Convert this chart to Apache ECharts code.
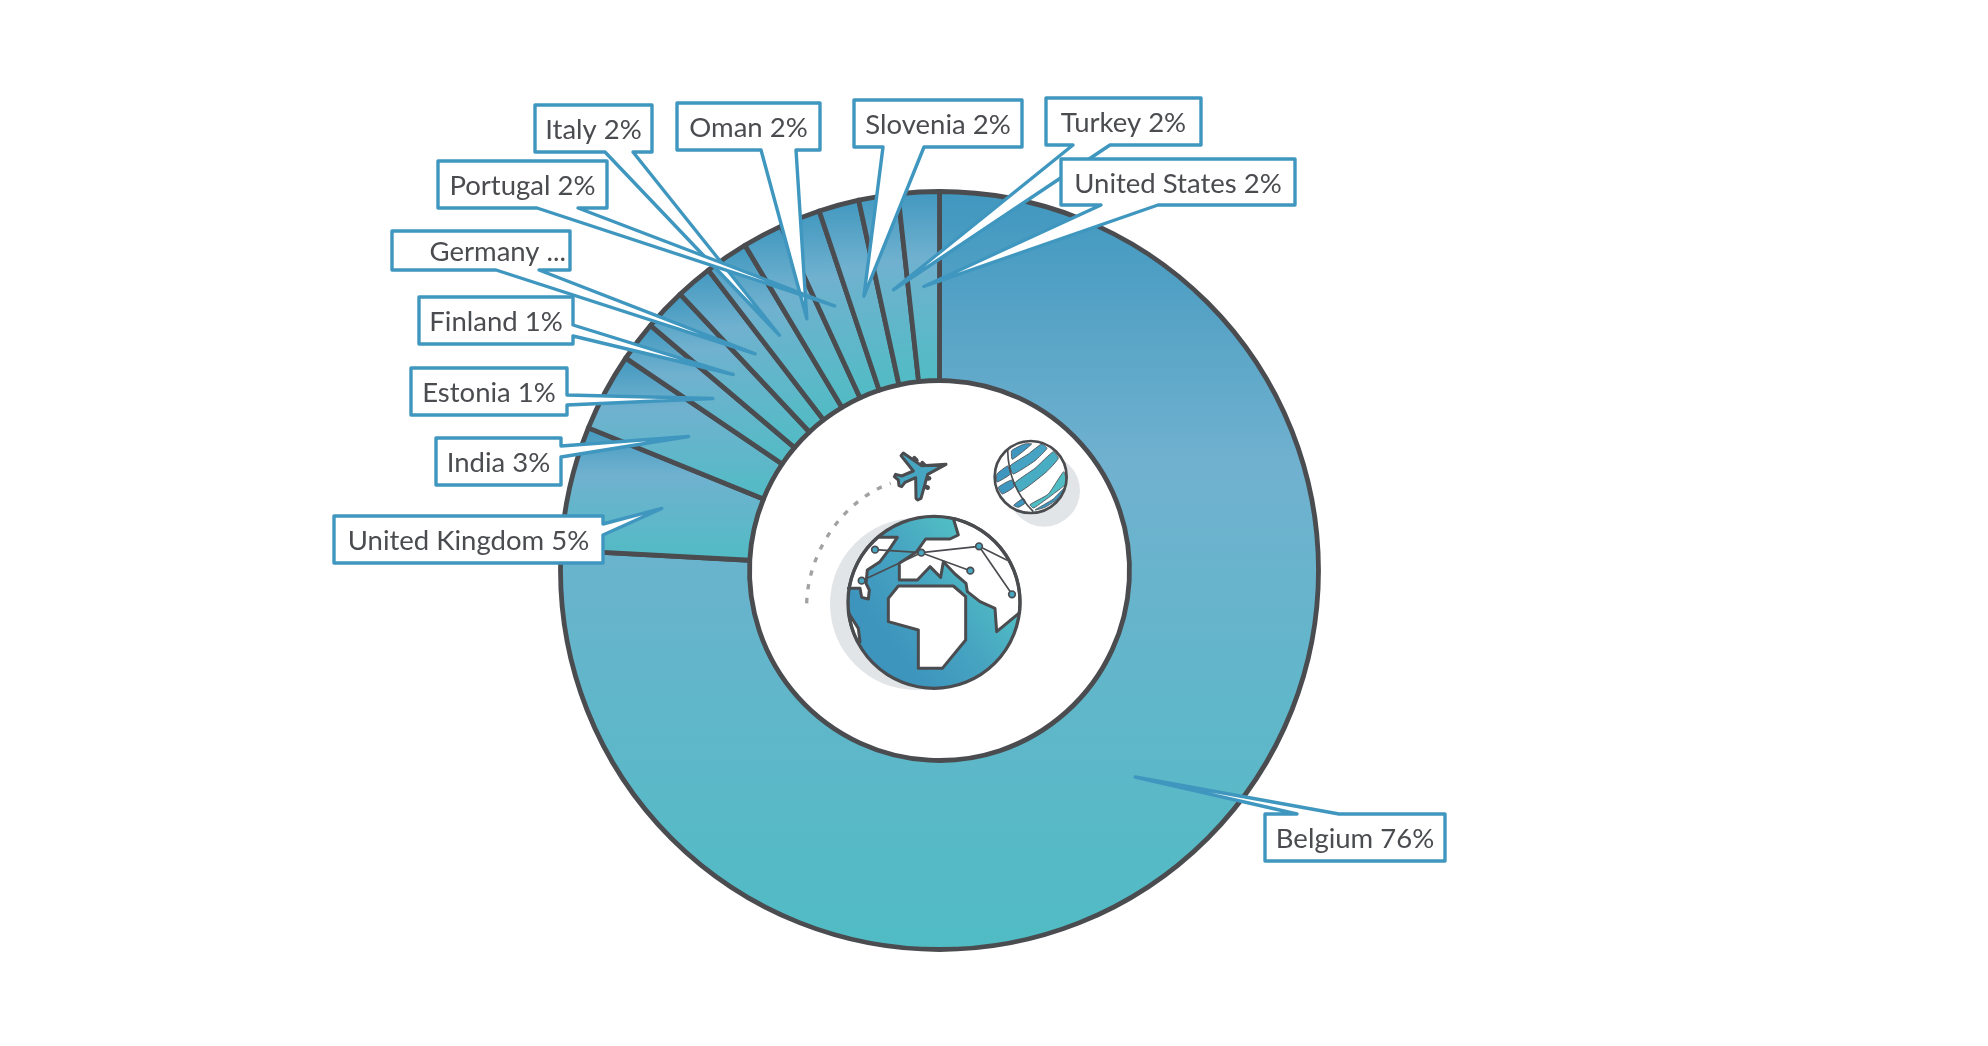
<!DOCTYPE html>
<html>
<head>
<meta charset="utf-8">
<title>Countries</title>
<style>
html,body{margin:0;padding:0;background:#fff;}
#chart{width:1988px;height:1046px;}
</style>
<script src="https://cdn.jsdelivr.net/npm/echarts@6/dist/echarts.min.js"></script>
</head>
<body>
<div id="chart"></div>
<script>
// slices, clockwise from 12 o'clock (share of the ring)
var countries = ['Belgium','United Kingdom','India','Estonia','Finland','Germany','Italy','Oman','Portugal','Slovenia','Turkey','United States'];
var shares = [75.86,5.28,3.33,1.72,1.81,1.56,1.86,1.72,1.72,1.72,1.67,1.75];
var labels = ['Belgium 76%','United Kingdom 5%','India 3%','Estonia 1%','Finland 1%','Germany ...','Italy 2%','Oman 2%','Portugal 2%','Slovenia 2%','Turkey 2%','United States 2%'];

// callout boxes: x0,y0,x1,y1, which side the tail leaves from, tail base from/to
var boxes = [
	[1265,814,1445,861,'top',1297,1339],
	[334,516,603,563,'right',524,535],
	[436,438,561,485,'right',446,457],
	[411,368,567,415,'right',395,405],
	[419,297,573,344,'right',325,336],
	[392,231,570,270,'bottom',496,539],
	[535,105,652,152,'bottom',605,633],
	[677,103,820,150,'bottom',761,796],
	[438,161,607,208,'bottom',537,578],
	[854,100,1022,147,'bottom',883,924],
	[1046,98,1201,145,'bottom',1073,1110],
	[1061,159,1295,205,'bottom',1101,1158]
];

var cx = 939.5, cy = 570.5, rIn = 190, rOut = 379;
var BLUE = '#3f97bf', TEAL = '#50bcc4', DARK = '#4a4c50', SHADE = '#e2e5e7';

var sliceFill = new echarts.graphic.LinearGradient(0,0,0,1,[
	{offset:0,color:'#4097bf'},
	{offset:0.36,color:'#70b1cf'},
	{offset:1,color:TEAL}
]);

// angle of the middle of each slice, radians clockwise from the top
var midAngles = (function(){
	var total = shares.reduce(function(a,b){return a+b;},0), run = 0;
	return shares.map(function(v){
		var m = (run + v/2)/total*Math.PI*2;
		run += v;
		return m;
	});
})();

var calloutPoints = function(i){
	var b = boxes[i], a = midAngles[i], r = (rIn+rOut)/2;
	var tip = [cx+Math.sin(a)*r, cy-Math.cos(a)*r];
	if(b[4]==='top') return [[b[0],b[1]],[b[5],b[1]],tip,[b[6],b[1]],[b[2],b[1]],[b[2],b[3]],[b[0],b[3]]];
	if(b[4]==='right') return [[b[0],b[1]],[b[2],b[1]],[b[2],b[5]],tip,[b[2],b[6]],[b[2],b[3]],[b[0],b[3]]];
	return [[b[0],b[1]],[b[2],b[1]],[b[2],b[3]],[b[6],b[3]],tip,[b[5],b[3]],[b[0],b[3]]];
};

var renderCallout = function(params){
	var i = params.dataIndex, b = boxes[i];
	var cut = labels[i].indexOf('...')>-1;
	return {
		type:'group',
		children:[{
			type:'polygon',
			shape:{points:calloutPoints(i)},
			style:{fill:'#fff',stroke:BLUE,lineWidth:3.4,lineJoin:'round'}
		},{
			type:'text',
			style:{
				text:labels[i],
				x:cut ? b[2]-4 : (b[0]+b[2])/2,
				y:(b[1]+b[3])/2+2,
				align:cut ? 'right' : 'center',
				verticalAlign:'middle',
				fill:DARK,
				font:'27.5px Lato'
			}
		}]
	};
};

// --- centre illustration, drawn in a 3x local space anchored at (780,420)
var arcPts = function(c,r,from,to){
	var pts = [], n = 40;
	for(var k=0;k<=n;k++){
		var t = (from+(to-from)*k/n)*Math.PI/180;
		pts.push([c[0]+Math.cos(t)*r,c[1]+Math.sin(t)*r]);
	}
	return pts;
};
var shift = function(pts,dx,dy){
	return pts.map(function(p){return [p[0]+dx,p[1]+dy];});
};
var G = [462,547], GR = 258;
var S = [752,171], SR = 108;
var poly = function(points,fill){
	return {type:'polygon',shape:{points:points},style:{fill:fill,stroke:DARK,lineWidth:9,lineJoin:'round'}};
};
var seg = function(x1,y1,x2,y2,color,w){
	return {type:'line',shape:{x1:x1,y1:y1,x2:x2,y2:y2},style:{stroke:color,lineWidth:w,lineCap:'round'}};
};
var node = function(x,y){
	return {type:'circle',shape:{cx:x,cy:y,r:10},style:{fill:'#48a6c0',stroke:DARK,lineWidth:5}};
};
// stripes of the small globe, outlined in the crop's own coordinates
var band = function(points,c){
	return {type:'polygon',shape:{points:shift(points,615,30),smooth:0.15},style:{fill:c||BLUE,stroke:DARK,lineWidth:2.5}};
};

var globeFill = new echarts.graphic.LinearGradient(0.78,0.3,0.22,0.72,[
	{offset:0,color:TEAL},
	{offset:0.45,color:'#47a5c1'},
	{offset:1,color:'#3d94bd'}
]);

var planeBody = shift([[183,58],[128,88],[108,160],[98,165],[93,160],[92,98],[60,112],[50,125],[42,122],[40,105],[28,95],[32,88],[50,93],[85,78],[48,32],[55,24],[110,62]],315,75);

var illustration = {
	type:'group',
	x:780,y:420,scaleX:1/3,scaleY:1/3,
	silent:true,
	children:[
		{type:'circle',shape:{cx:408,cy:552,r:258},style:{fill:SHADE}},
		{type:'circle',shape:{cx:792,cy:212,r:108},style:{fill:SHADE}},
		{type:'bezierCurve',shape:{x1:80,y1:550,x2:332,y2:190,cpx1:85,cpy1:385,cpx2:200,cpy2:235},
			style:{stroke:'#a0a2a4',lineWidth:10,lineDash:[16,26],fill:null}},
		// big globe
		{type:'circle',shape:{cx:G[0],cy:G[1],r:GR},style:{fill:globeFill}},
		poly([[535,345],[510,357],[437,357],[410,395],[358,430],[358,480],[412,480],[450,440],[482,472],[490,425],[525,462],[558,490],[562,515],[600,545],[645,565],[650,635],[719,578]]
			.concat(arcPts(G,GR,7,-77)),'#fff'),
		poly([[355,498],[520,498],[557,530],[557,660],[487,745],[415,745],[415,630],[325,605],[325,535]],'#fff'),
		poly([[352,352],[330,385],[300,425],[262,450],[258,490],[268,510],[265,537],[245,532],[240,505],[205,505]]
			.concat(arcPts(G,GR,-170,-130)).concat([[300,352]]),'#fff'),
		poly([[205,578],[235,625],[240,665]].concat(arcPts(G,GR,153,173)),'#fff'),
		seg(285,389,424,398,DARK,5),seg(424,398,597,379,DARK,5),seg(424,398,571,452,DARK,5),
		seg(597,379,696,523,DARK,5),seg(597,379,680,420,DARK,5),seg(245,482,424,398,DARK,5),
		node(285,389),node(424,398),node(597,379),node(571,452),node(696,523),node(245,482),
		{type:'circle',shape:{cx:G[0],cy:G[1],r:GR},style:{fill:null,stroke:DARK,lineWidth:10}},
		// small striped globe
		{type:'circle',shape:{cx:S[0],cy:S[1],r:SR},style:{fill:'#fff'}},
		band([[80,62],[118,42],[140,42],[82,88]]),
		band([[75,108],[130,72],[170,42],[186,55],[150,92],[85,132]],'#46a3c3'),
		band([[88,160],[150,115],[205,65],[220,85],[185,125],[105,185]],'#48adc3'),
		band([[135,224],[190,192],[236,125],[244,160],[205,192],[146,234]],TEAL),
		band([[150,240],[205,207],[240,172],[225,202],[180,232]],BLUE),
		band([[36,132],[68,108],[76,132],[36,156]]),
		band([[40,172],[80,150],[88,170],[52,192]]),
		band([[86,226],[115,205],[122,218],[100,232]]),
		{type:'bezierCurve',shape:{x1:683,y1:90,x2:760,y2:275,cpx1:684,cpy1:150,cpx2:700,cpy2:215},
			style:{stroke:DARK,lineWidth:5,fill:null}},
		{type:'circle',shape:{cx:S[0],cy:S[1],r:SR},style:{fill:null,stroke:DARK,lineWidth:8}},
		// plane
		seg(403,115,409,121,DARK,14),seg(427,130,433,136,DARK,14),seg(443,175,447,175,DARK,14),seg(443,203,439,201,DARK,14),
		{type:'polygon',shape:{points:planeBody},style:{fill:'#46a6c2',stroke:DARK,lineWidth:9,lineJoin:'round'}}
	]
};

var init = function(){
	var chart = echarts.init(document.getElementById('chart'));
	chart.setOption({
		animation:false,
		backgroundColor:'#fff',
		graphic:[illustration],
		series:[{
			type:'pie',
			z:2,
			center:[cx,cy],
			radius:[rIn,rOut],
			startAngle:90,
			clockwise:true,
			silent:true,
			label:{show:false},
			labelLine:{show:false},
			itemStyle:{color:sliceFill,borderColor:DARK,borderWidth:4.8},
			data:countries.map(function(n,i){return {name:n,value:shares[i]};})
		},{
			type:'custom',
			z:10,
			coordinateSystem:'none',
			silent:true,
			renderItem:renderCallout,
			data:labels
		}]
	});
};
init();
</script>
</body>
</html>
